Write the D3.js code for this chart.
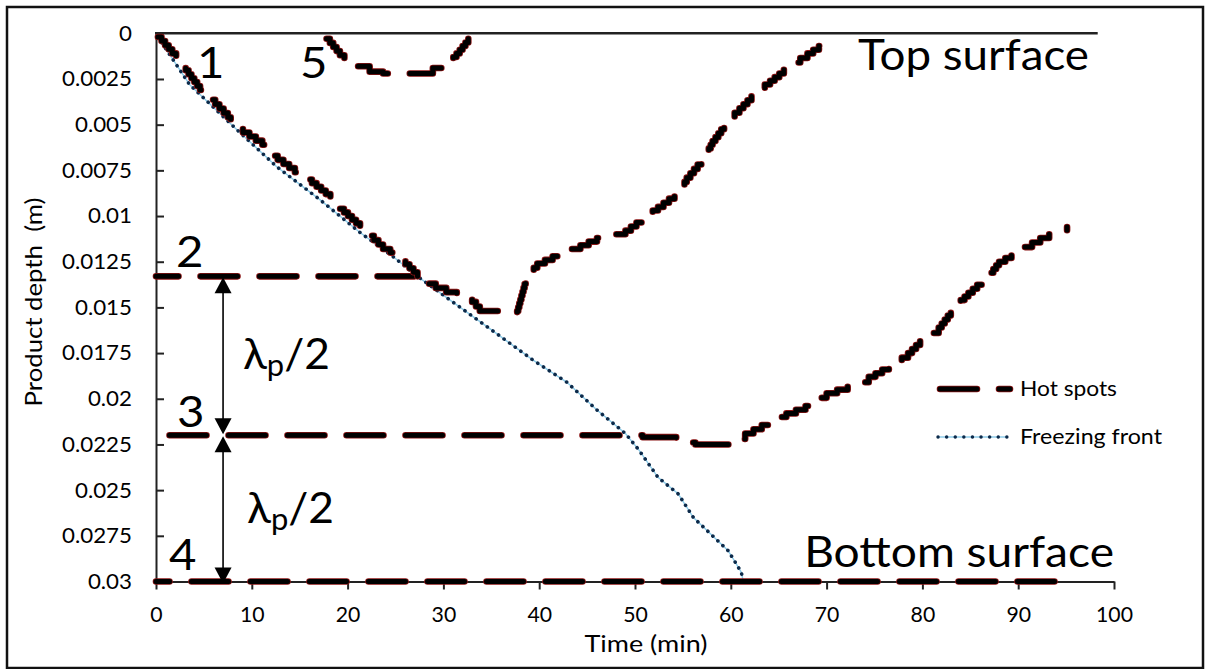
<!DOCTYPE html>
<html>
<head>
<meta charset="utf-8">
<script src="https://cdn.jsdelivr.net/npm/d3@7/dist/d3.min.js"></script>
<style>
  html, body { margin: 0; padding: 0; background: #fff; }
  svg { display: block; font-family: Lato, "DejaVu Sans", sans-serif; }
</style>
</head>
<body>
<svg id="chart" width="1208" height="669"></svg>
<script>
// ---------- data ----------
const xTicks = [0, 10, 20, 30, 40, 50, 60, 70, 80, 90, 100];
const yTicks = [0, 0.0025, 0.005, 0.0075, 0.01, 0.0125, 0.015, 0.0175, 0.02, 0.0225, 0.025, 0.0275, 0.03];
const yTickLabels = ["0", "0.0025", "0.005", "0.0075", "0.01", "0.0125", "0.015", "0.0175", "0.02", "0.0225", "0.025", "0.0275", "0.03"];

// Hot spot 1 (from top surface, descending)
const hs1Time  = [0.2, 1.7, 2.5, 4.6, 5.3, 7.5, 8.4, 11.1, 12.1, 14.5, 15.8, 18.2, 19.2, 21.3, 23.7, 25.2, 27.3];
const hs1Depth = [0.0002, 0.0011, 0.0016, 0.0031, 0.0034, 0.0046, 0.0052, 0.0061, 0.0067, 0.0076, 0.0080, 0.0090, 0.0096, 0.0106, 0.0118, 0.0122, 0.0133];

// Hot spot 2 (horizontal, then merged track going down and back up to the top)
const hs2Time  = [0, 27.3, 28.1, 31.4, 33.0, 33.8, 36.1, 37.0, 37.7, 38.7, 39.8, 42.2, 44.3, 46.9, 49.0, 51.3, 52.4, 54.7, 55.4, 57.3, 58.1, 59.9, 60.9, 63.0, 64.1, 66.5, 68.0, 70.4];
const hs2Depth = [0.0133, 0.0133, 0.0137, 0.0144, 0.0147, 0.0152, 0.0153, 0.0153, 0.0152, 0.0133, 0.0126, 0.0120, 0.0116, 0.0110, 0.0108, 0.0099, 0.0095, 0.0086, 0.0079, 0.0067, 0.0059, 0.0046, 0.0041, 0.0030, 0.0026, 0.0016, 0.0011, 0.0003];

// Hot spot 3 (horizontal, then rising)
const hs3Time  = [0, 49.0, 50.8, 54.3, 56.3, 60.1, 61.5, 64.1, 65.8, 68.8, 70.0, 73.3, 74.4, 77.2, 78.5, 80.6, 81.7, 83.6, 84.8, 87.1, 88.0, 90.6, 92.3, 95.1];
const hs3Depth = [0.0220, 0.0220, 0.0221, 0.0224, 0.0225, 0.0222, 0.0219, 0.0212, 0.0208, 0.0202, 0.0197, 0.0191, 0.0188, 0.0180, 0.0175, 0.0164, 0.0161, 0.0148, 0.0142, 0.0131, 0.0125, 0.0117, 0.0112, 0.0106];

// Hot spot 4 (bottom surface)
const hs4Time  = [0, 95.1];
const hs4Depth = [0.03, 0.03];

// Hot spot 5 (near the top surface)
const hs5Time  = [17.8, 19.2, 20.6, 22.3, 23.7, 28.6, 28.9, 30.7, 31.7, 32.6];
const hs5Depth = [0.0003, 0.0012, 0.0018, 0.0021, 0.0022, 0.0022, 0.0019, 0.0015, 0.0009, 0.0003];

// Freezing front
const ffTime  = [0.2, 3.5, 8.5, 12.6, 17.1, 21.3, 24.7, 27.3, 30.7, 35.2, 39.4, 42.9, 46.0, 49.0, 50.4, 52.4, 54.5, 56.1, 58.5, 59.7, 60.3, 61.1, 61.3];
const ffDepth = [0.0002, 0.0028, 0.0053, 0.0073, 0.0091, 0.0109, 0.0122, 0.0133, 0.0146, 0.0163, 0.0179, 0.0191, 0.0206, 0.0219, 0.0228, 0.0243, 0.0252, 0.0265, 0.0277, 0.0283, 0.0288, 0.0295, 0.0300];

// Annotation values
const arrowTime = 7.0;
const arrowDepths = [[0.0133, 0.0220], [0.0220, 0.0300]];
const spotLabels = ["1", "2", "3", "4", "5"];

// ---------- drawing ----------
const svg = d3.select("#chart");
const x = d3.scaleLinear().domain([0, 100]).range([156, 1114]);
const y = d3.scaleLinear().domain([0, 0.03]).range([33.3, 581.5]);

// horizontally stretch text (the reference type is wide)
function stretch(sel, sx) {
  sel.each(function () {
    const t = d3.select(this);
    const x0 = +(t.attr("x") || 0);
    const prev = t.attr("transform") || "";
    t.attr("x", x0 / sx).attr("transform", (prev + ` scale(${sx},1)`).trim());
  });
}
function fit(sel, width) {
  const w = sel.node().getComputedTextLength();
  stretch(sel, width / w);
  return sel;
}

// outer border
svg.append("rect").attr("x", 7).attr("y", 7).attr("width", 1196).attr("height", 661)
  .attr("fill", "none").attr("stroke", "#111").attr("stroke-width", 2.5);

// axes
const xAxis = svg.append("g").attr("transform", `translate(0,${y(0.03)})`)
  .call(d3.axisBottom(x).tickValues(xTicks).tickSizeInner(8).tickSizeOuter(0).tickPadding(17));
const yAxis = svg.append("g").attr("transform", `translate(${x(0)},0)`)
  .call(d3.axisLeft(y).tickValues(yTicks).tickFormat((d, i) => yTickLabels[i])
    .tickSizeInner(-8).tickSizeOuter(0).tickPadding(24));
[xAxis, yAxis].forEach(g => {
  g.selectAll("path.domain").attr("stroke", "#222").attr("stroke-width", 2);
  g.selectAll(".tick line").attr("stroke", "#222").attr("stroke-width", 2);
  g.selectAll("text").attr("font-family", "Lato, sans-serif").attr("font-size", 21.5).attr("fill", "#000");
});
{
  // widths measured on the reference: "0.0025" ≈ 70 px, "100" ≈ 37 px
  const yRef = yAxis.selectAll("text").filter((d, i) => i === 1).node().getComputedTextLength();
  stretch(yAxis.selectAll("text"), 70 / yRef);
  const xRef = xAxis.selectAll("text").filter((d, i) => i === 10).node().getComputedTextLength();
  stretch(xAxis.selectAll("text"), 37 / xRef);
}

// top surface line
svg.append("line").attr("x1", x(0) - 1).attr("x2", x(98.3)).attr("y1", y(0)).attr("y2", y(0))
  .attr("stroke", "#222").attr("stroke-width", 2.6);

// axis titles
fit(svg.append("text").attr("x", 646).attr("y", 652).attr("text-anchor", "middle")
  .attr("font-size", 23.5).text("Time (min)"), 123);
fit(svg.append("text").attr("transform", "translate(42,302) rotate(-90)").attr("text-anchor", "middle")
  .attr("font-size", 24).style("white-space", "pre").text("Product depth  (m)"), 209);

// stair-step rendering (the hot spot tracks are drawn on a discrete depth grid)
const STEP = 4;
function curveStairs(context) {
  let px, py, started;
  return {
    lineStart() { started = false; },
    lineEnd() {},
    point(x1, y1) {
      if (!started) { context.moveTo(x1, y1); started = true; }
      else {
        const dx = x1 - px, dy = y1 - py;
        const n = Math.max(1, Math.round(Math.abs(dy) / STEP));
        for (let k = 1; k <= n; k++) {
          const xk = px + dx * k / n;
          context.lineTo(xk, py + dy * (k - 1) / n);
          context.lineTo(xk, py + dy * k / n);
        }
      }
      px = x1; py = y1;
    },
    areaStart() {}, areaEnd() {}
  };
}

const line = d3.line().x(d => x(d[0])).y(d => y(d[1]));
const stairLine = d3.line().x(d => x(d[0])).y(d => y(d[1])).curve(curveStairs);
const zip = (a, b) => a.map((v, i) => [v, b[i]]);

function hotSpot(t, dd, offset) {
  const p = stairLine(zip(t, dd));
  svg.append("path").attr("d", p).attr("fill", "none")
    .attr("stroke", "#8a1414").attr("stroke-width", 6.6).attr("stroke-linecap", "round")
    .attr("stroke-linejoin", "round").attr("stroke-dasharray", "37 22").attr("stroke-dashoffset", offset);
  svg.append("path").attr("d", p).attr("fill", "none")
    .attr("stroke", "#000").attr("stroke-width", 5).attr("stroke-linecap", "round")
    .attr("stroke-linejoin", "round").attr("stroke-dasharray", "37 22").attr("stroke-dashoffset", offset);
}

// freezing front
const ffData = zip(ffTime, ffDepth);
svg.append("path").attr("d", line(ffData)).attr("fill", "none")
  .attr("stroke", "#8fcdea").attr("stroke-width", 1.4);
svg.append("path").attr("d", line(ffData)).attr("fill", "none")
  .attr("stroke", "#0c2a4a").attr("stroke-width", 3.6).attr("stroke-linecap", "round")
  .attr("stroke-dasharray", "0.1 6.8");

hotSpot(hs4Time, hs4Depth, 23.5);
hotSpot(hs3Time, hs3Depth, 45.5);
hotSpot(hs2Time, hs2Depth, 14.5);
hotSpot(hs1Time, hs1Depth, 0);
hotSpot(hs5Time, hs5Depth, 0);

// arrows
arrowDepths.forEach(([d0, d1]) => {
  const ax = x(arrowTime), y0 = y(d0), y1 = y(d1) + (d1 === 0.03 ? 3 : 0);
  svg.append("line").attr("x1", ax).attr("x2", ax).attr("y1", y0 + 4).attr("y2", y1 - 4)
    .attr("stroke", "#000").attr("stroke-width", 1.6);
  svg.append("path").attr("d", `M${ax},${y0 + 1}L${ax - 8.5},${y0 + 17}L${ax + 8.5},${y0 + 17}Z`).attr("fill", "#000");
  svg.append("path").attr("d", `M${ax},${y1 - 1}L${ax - 8.5},${y1 - 17}L${ax + 8.5},${y1 - 17}Z`).attr("fill", "#000");
});

// big labels
const big = (tx, ty, s, anchor) => svg.append("text").attr("x", tx).attr("y", ty)
  .attr("font-size", 43).attr("text-anchor", anchor || "start").attr("fill", "#000").text(s);
stretch(big(197, 78, spotLabels[0]), 1.1);
stretch(big(176, 267, spotLabels[1]), 1.1);
stretch(big(177, 427, spotLabels[2]), 1.1);
stretch(big(169, 570, spotLabels[3]), 1.1);
stretch(big(300, 78, spotLabels[4]), 1.1);
fit(big(1089, 70, "Top surface", "end"), 231);
fit(big(1114, 567, "Bottom surface", "end"), 310);

function lambda(tx, ty) {
  const t = svg.append("text").attr("x", tx).attr("y", ty).attr("font-size", 43).attr("fill", "#000");
  t.append("tspan").text("λ");
  t.append("tspan").attr("font-size", 30).attr("dy", 7).text("p");
  t.append("tspan").attr("dy", -7).text("/2");
  fit(t, 87);
}
lambda(243, 369);
lambda(247, 523);

// legend
const legHot = [[940, 389], [1010, 389]];
svg.append("path").attr("d", d3.line()(legHot)).attr("stroke", "#8a1414").attr("stroke-width", 6.6)
  .attr("stroke-linecap", "round").attr("stroke-dasharray", "37 22").attr("fill", "none");
svg.append("path").attr("d", d3.line()(legHot)).attr("stroke", "#000").attr("stroke-width", 5)
  .attr("stroke-linecap", "round").attr("stroke-dasharray", "37 22").attr("fill", "none");
const legFF = [[938, 437], [1008, 437]];
svg.append("path").attr("d", d3.line()(legFF)).attr("stroke", "#8fcdea").attr("stroke-width", 1.4).attr("fill", "none");
svg.append("path").attr("d", d3.line()(legFF)).attr("stroke", "#0c2a4a").attr("stroke-width", 3.4)
  .attr("stroke-linecap", "round").attr("stroke-dasharray", "0.1 8.5").attr("fill", "none");
fit(svg.append("text").attr("x", 1020).attr("y", 396).attr("font-size", 22).text("Hot spots"), 97);
fit(svg.append("text").attr("x", 1020).attr("y", 444).attr("font-size", 22).text("Freezing front"), 142);
</script>
</body>
</html>
